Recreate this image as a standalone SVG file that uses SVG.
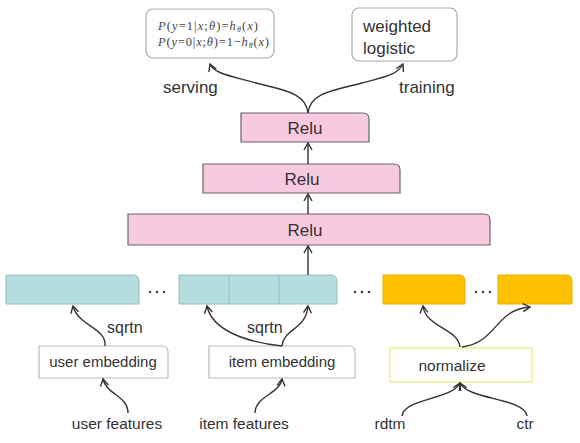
<svg xmlns="http://www.w3.org/2000/svg" width="580" height="443" viewBox="0 0 580 443">
<defs>
<marker id="arr" markerWidth="10" markerHeight="10" refX="8" refY="5" orient="auto" markerUnits="userSpaceOnUse">
<path d="M1,1 L8,5 L1,9" fill="none" stroke="#333" stroke-width="1.4"/>
</marker>
<style>
.lbl{font-family:"Liberation Sans",Arial,sans-serif;fill:#333;}
.relu{fill:#F8CADF;stroke:#666;stroke-width:1.2;}
.blue{fill:#B5DDE0;stroke:#9BB;stroke-width:1;}
.yel{fill:#FFC000;stroke:#E5B300;stroke-width:1;}
.emb{fill:#fff;stroke:#bbb;stroke-width:1.2;}
.card{fill:#fff;stroke:#aaa;stroke-width:1.2;}
.con{fill:none;stroke:#333;stroke-width:1.4;marker-end:url(#arr);}
.dot{fill:#444;}
.f{font-family:"Liberation Serif","Times New Roman",serif;font-size:12.5px;fill:#444;}
</style>
</defs>
<rect width="580" height="443" fill="#fff"/>

<g id="formula">
<rect class="card" x="146" y="9" width="128" height="49" rx="7"/>
<text class="f" x="158" y="30" textLength="100" lengthAdjust="spacing"><tspan font-style="italic">P</tspan>(<tspan font-style="italic">y</tspan>=1|<tspan font-style="italic">x</tspan>;<tspan font-style="italic">θ</tspan>)=<tspan font-style="italic">h</tspan><tspan font-style="italic" font-size="8" dy="2">θ</tspan><tspan dy="-2">(</tspan><tspan font-style="italic">x</tspan>)</text>
<text class="f" x="158" y="46" textLength="111" lengthAdjust="spacing"><tspan font-style="italic">P</tspan>(<tspan font-style="italic">y</tspan>=0|<tspan font-style="italic">x</tspan>;<tspan font-style="italic">θ</tspan>)=1−<tspan font-style="italic">h</tspan><tspan font-style="italic" font-size="8" dy="2">θ</tspan><tspan dy="-2">(</tspan><tspan font-style="italic">x</tspan>)</text>
</g>
<g id="weighted">
<rect class="card" x="352" y="8" width="105" height="53" rx="7"/>
<text class="lbl" x="363" y="32" font-size="17">weighted</text>
<text class="lbl" x="363" y="54" font-size="17">logistic</text>
</g>
<text class="lbl" x="163" y="93" font-size="17">serving</text>
<text class="lbl" x="399" y="93" font-size="17">training</text>

<g id="relu3">
<path class="relu" d="M241,113 H363 Q369,113 369,119 V142 H241 Z"/>
<text class="lbl" x="305" y="134" font-size="17" text-anchor="middle">Relu</text>
</g>
<g id="relu2">
<path class="relu" d="M203,164 H394 Q400,164 400,170 V193 H203 Z"/>
<text class="lbl" x="302" y="185" font-size="17" text-anchor="middle">Relu</text>
</g>
<g id="relu1">
<path class="relu" d="M128,214 H484 Q490,214 490,220 V245 H128 Z"/>
<text class="lbl" x="305" y="236" font-size="17" text-anchor="middle">Relu</text>
</g>

<g id="bar-user">
<path class="blue" d="M6,275 H133 Q139,275 139,281 V304 H6 Z"/>
</g>
<g id="bar-item">
<path class="blue" d="M179,275 H331 Q337,275 337,281 V304 H179 Z"/>
<line x1="229" y1="275" x2="229" y2="304" stroke="#9BB" stroke-width="1"/>
<line x1="279" y1="275" x2="279" y2="304" stroke="#9BB" stroke-width="1"/>
</g>
<g id="bar-rdtm">
<path class="yel" d="M383,275 H459 Q465,275 465,281 V304 H383 Z"/>
</g>
<g id="bar-ctr">
<path class="yel" d="M498,275 H566 Q572,275 572,281 V304 H498 Z"/>
</g>
<g id="dots">
<circle class="dot" cx="150" cy="292" r="1.3"/><circle class="dot" cx="157" cy="292" r="1.3"/><circle class="dot" cx="164" cy="292" r="1.3"/>
<circle class="dot" cx="355" cy="292" r="1.3"/><circle class="dot" cx="362" cy="292" r="1.3"/><circle class="dot" cx="369" cy="292" r="1.3"/>
<circle class="dot" cx="476" cy="292" r="1.3"/><circle class="dot" cx="483" cy="292" r="1.3"/><circle class="dot" cx="490" cy="292" r="1.3"/>
</g>

<text class="lbl" x="107" y="333" font-size="16">sqrtn</text>
<text class="lbl" x="247" y="333" font-size="16">sqrtn</text>

<g id="user-embedding">
<path class="emb" d="M39,346 H162 Q168,346 168,352 V378 H39 Z"/>
<text class="lbl" x="103" y="367" font-size="15" text-anchor="middle">user embedding</text>
</g>
<g id="item-embedding">
<path class="emb" d="M209,346 H349 Q355,346 355,352 V378 H209 Z"/>
<text class="lbl" x="282" y="367" font-size="15" text-anchor="middle">item embedding</text>
</g>
<g id="normalize">
<rect x="390" y="348" width="142" height="34" fill="#fff" stroke="#E6F59A" stroke-width="1.6"/>
<text class="lbl" x="452" y="371" font-size="15.5" text-anchor="middle">normalize</text>
</g>

<text class="lbl" x="117" y="429" font-size="15.5" text-anchor="middle">user features</text>
<text class="lbl" x="244" y="429" font-size="15.5" text-anchor="middle">item features</text>
<text class="lbl" x="390" y="429" font-size="15.5" text-anchor="middle">rdtm</text>
<text class="lbl" x="525" y="429" font-size="15.5" text-anchor="middle">ctr</text>

<g id="connectors">
<path class="con" d="M308,275 V246"/>
<path class="con" d="M308,214 V194"/>
<path class="con" d="M308,164 V143"/>
<path class="con" d="M308,113 C306,92 282,90 256,83 C232,76 214,74 210,64"/>
<path class="con" d="M308,113 C310,92 336,90 362,83 C388,76 398,74 403,64"/>
<path class="con" d="M105,346 C107,328 78,326 73,306"/>
<path class="con" d="M282,346 C245,342 212,330 207,306"/>
<path class="con" d="M282,346 C284,328 306,330 308,306"/>
<path class="con" d="M128,413 C128,396 106,394 103,379"/>
<path class="con" d="M255,413 C255,396 280,394 282,379"/>
<path class="con" d="M460,347 C458,328 426,328 423,306"/>
<path class="con" d="M462,347 C498,342 494,310 530,307"/>
<path class="con" d="M402,416 C404,398 452,400 460,383"/>
<path class="con" d="M527,416 C525,398 468,400 460,383"/>
</g>
</svg>
